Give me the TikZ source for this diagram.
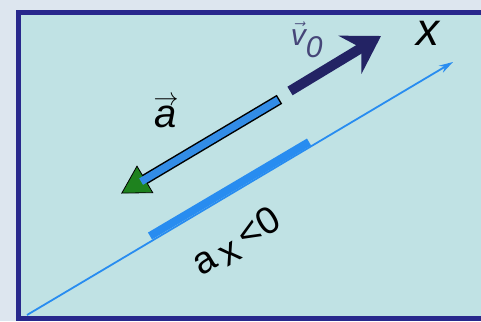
\documentclass[tikz,border=0pt]{standalone}
\usepackage{fontspec}
\setmainfont{Liberation Sans}
\usetikzlibrary{arrows.meta}
\definecolor{pagebg}{RGB}{221,230,239}
\definecolor{panelbg}{RGB}{192,226,228}
\definecolor{framenavy}{RGB}{40,40,140}
\definecolor{axisblue}{RGB}{40,140,240}
\definecolor{accblue}{RGB}{50,140,230}
\definecolor{accgreen}{RGB}{30,130,30}
\definecolor{velnavy}{RGB}{35,35,100}
\definecolor{labslate}{RGB}{70,70,120}
\tikzset{
  lab/.style={inner sep=0pt, font=\fontsize{40}{44}\selectfont},
  axisline/.style={axisblue, line width=1.8pt, -{Stealth[length=14pt,width=8pt]}},
  segment/.style={axisblue, line width=8pt},
  velarrow/.style={velnavy, line width=10pt, -{Stealth[length=36pt,width=44pt,inset=13pt]}},
}
\begin{document}
\begin{tikzpicture}[x=1pt,y=-1pt]
\useasboundingbox (0,0) rectangle (481,321);
\fill[pagebg] (0,0) rectangle (481,321);
\filldraw[fill=panelbg, draw=framenavy, line width=5pt] (18,13) rectangle (500,318);

% x axis
\coordinate (o) at (27,315);
\coordinate (e) at (453,62);
\draw[axisline] (o) -- (e);
\node[lab, font=\fontsize{46}{50}\selectfont\itshape] (xlab) at (428,33) {x};

% displacement part
\coordinate (s1) at (150,236);
\coordinate (s2) at (309,142);
\draw[segment] (s1) -- (s2);
\node[lab, rotate=31, font=\fontsize{38}{42}\selectfont] (cond) at (237,243)
  {a\,\raisebox{-6pt}{x}\,<0};

% acceleration
\coordinate (a1) at (275,102);
\coordinate (a2) at (122,193);
\draw[black, line width=10.5pt, line cap=rect, shorten >=-1pt,
  -{Triangle[length=28pt,width=32pt,fill=accgreen,line width=0.8pt]}] (a1) -- (a2);
\draw[accblue, line width=7.5pt, line cap=rect, shorten >=26pt] (a1) -- (a2);
\node[lab] (alab) at (166,112)
  {\shortstack{\fontsize{24}{8}\selectfont\(\rightarrow\)\\[-2pt]\textit{a}}};

% initial velocity
\coordinate (v1) at (290,91);
\coordinate (v2) at (381,36);
\draw[velarrow] (v1) -- (v2);
\node[lab, text=labslate, font=\fontsize{30}{34}\selectfont] (vlab) at (307,40)
  {\(\vec{\textit{v}}_{\textit{0}}\)};
\end{tikzpicture}
\end{document}
